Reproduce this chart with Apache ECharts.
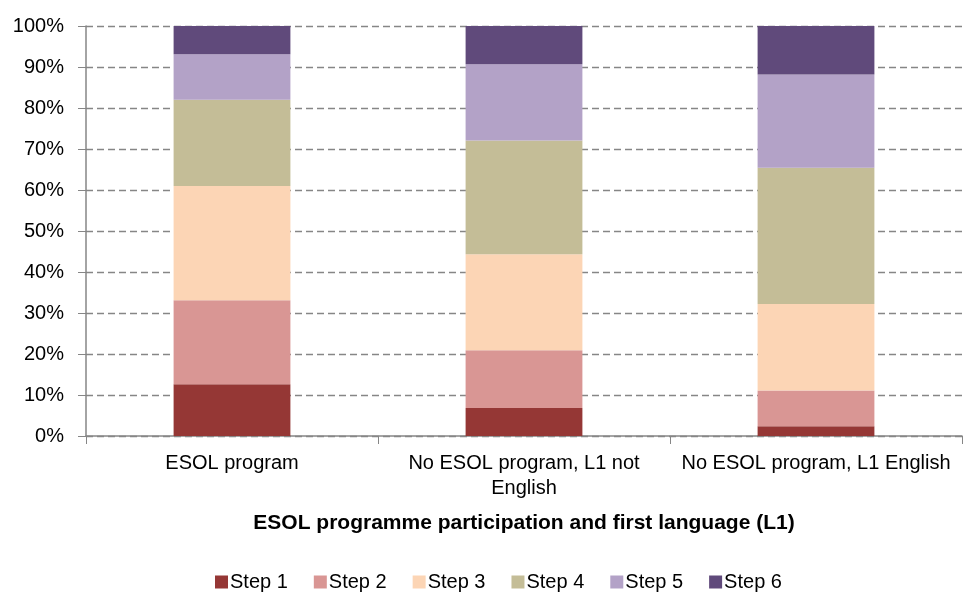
<!DOCTYPE html>
<html>

<head>
    <meta charset="utf-8">
    <title></title>
    <style>
        body { margin: 0; background: #fff; }
    </style>
</head>

<body>
    <div id="main" style="width: 964px;height:594px;"></div>
    <script src="https://cdn.jsdelivr.net/npm/echarts@6/dist/echarts.min.js" charset="utf-8"></script>
    <script>
    var categories = ['ESOL program', 'No ESOL program, L1 not\nEnglish', 'No ESOL program, L1 English'];
    var stepNames = ['Step 1', 'Step 2', 'Step 3', 'Step 4', 'Step 5', 'Step 6'];
    var step1 = [12.6, 6.8, 2.4];
    var step2 = [20.5, 14.1, 8.7];
    var step3 = [27.9, 23.4, 21.1];
    var step4 = [21.0, 27.8, 33.2];
    var step5 = [11.1, 18.6, 22.8];
    var step6 = [6.9, 9.3, 11.8];
    var stepColors = ['#953735', '#D99694', '#FCD5B5', '#C4BD97', '#B3A2C7', '#604A7B'];

    var allSteps = [step1, step2, step3, step4, step5, step6];
    var font = 'Liberation Sans, Arial, sans-serif';

    var myChart = echarts.init(document.getElementById('main'));
    var series = stepNames.map(function(name, i) {
        return {
            name: name,
            type: 'bar',
            stack: 'total',
            barWidth: '40%',
            data: allSteps[i],
            itemStyle: { color: stepColors[i] }
        };
    });

    option = {
        animation: false,
        grid: { left: 86, right: 2, top: 26, bottom: 158 },
        legend: {
            top: 567,
            left: 210,
            itemWidth: 13,
            itemHeight: 13,
            itemGap: 26,
            icon: 'rect',
            textStyle: { fontFamily: font, fontSize: 20, color: '#000', padding: [0, 0, 0, -3] },
            data: stepNames
        },
        xAxis: {
            type: 'category',
            data: categories,
            name: 'ESOL programme participation and first language (L1)',
            nameLocation: 'middle',
            nameGap: 77,
            nameTextStyle: { fontFamily: font, fontSize: 21, fontWeight: 'bold', color: '#000' },
            axisLine: { lineStyle: { color: '#868686', width: 1.5 } },
            axisTick: { show: true, length: 8, lineStyle: { color: '#868686' } },
            axisLabel: {
                fontFamily: font, fontSize: 20, color: '#000', margin: 15, lineHeight: 25,
                interval: 0, hideOverlap: false
            }
        },
        yAxis: {
            type: 'value',
            min: 0,
            max: 100,
            interval: 10,
            axisLine: { show: true, lineStyle: { color: '#868686', width: 1.5 } },
            axisTick: { show: true, length: 8, lineStyle: { color: '#868686' } },
            splitLine: { lineStyle: { color: '#868686', type: [7, 4], width: 1.3 } },
            axisLabel: {
                fontFamily: font, fontSize: 20, color: '#000', margin: 22,
                formatter: '{value}%'
            }
        },
        series: series
    };
    myChart.setOption(option);
    </script>
</body>

</html>
